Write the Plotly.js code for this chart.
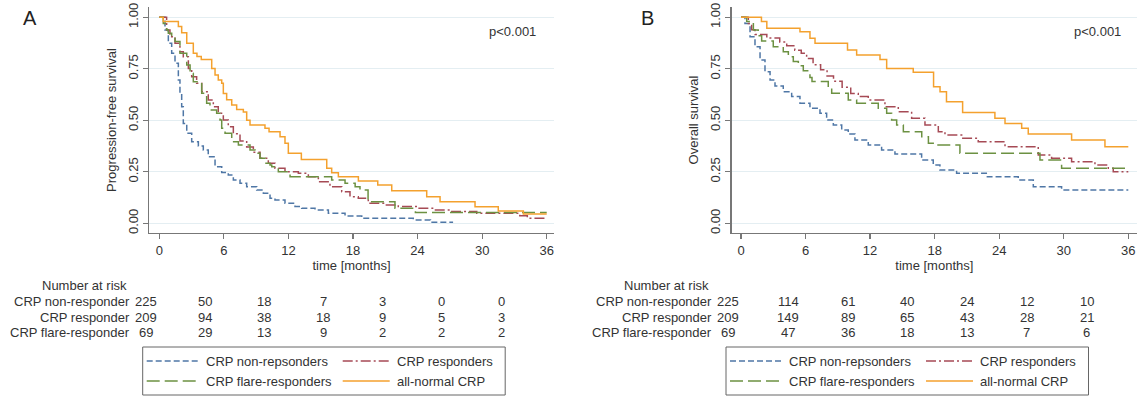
<!DOCTYPE html>
<html><head><meta charset="utf-8">
<script src="https://cdn.plot.ly/plotly-3.0.1.min.js"></script>
<style>html,body{margin:0;padding:0;background:#fff}#chart{width:1145px;height:396px}</style>
</head><body><div id="chart"></div>
<script>
// ---------- Panel A: progression-free survival (time in months, survival) ----------
const tA_non   = [0,0.53,0.84,1.15,1.46,1.77,1.92,2.08,2.23,2.55,3.01,3.63,4.09,4.55,5.18,5.8,6.41,6.88,7.5,8.12,9.05,9.67,10.29,10.75,11.68,12.61,13.23,14.47,15.71,17.26,18.81,23.6,25.2,27.3];
const sA_non   = [1,0.938,0.874,0.825,0.777,0.696,0.631,0.566,0.485,0.437,0.396,0.375,0.356,0.323,0.275,0.246,0.234,0.21,0.194,0.178,0.162,0.146,0.121,0.113,0.097,0.081,0.073,0.065,0.049,0.035,0.024,0.016,0.005,0.005];
const tA_resp  = [0,0.68,0.99,1.46,1.92,2.23,2.7,3.01,3.47,3.94,4.55,5.02,5.48,5.95,6.41,6.88,7.5,8.12,8.74,9.36,10.13,10.75,11.68,12.92,13.85,14.78,15.86,16.95,17.72,18.49,19.42,20.98,22.21,24,25.5,27,29.5,33.5,34.2,36];
const sA_resp  = [1,0.938,0.906,0.874,0.833,0.809,0.752,0.712,0.68,0.639,0.599,0.566,0.534,0.501,0.469,0.435,0.4,0.37,0.345,0.316,0.291,0.267,0.25,0.243,0.226,0.202,0.178,0.153,0.129,0.121,0.097,0.089,0.081,0.073,0.065,0.057,0.049,0.037,0.025,0.025];
const tA_flare = [0,0.37,0.68,0.84,1.15,1.46,1.92,2.55,2.86,3.16,3.94,4.4,4.71,5.33,5.64,5.8,6.11,6.73,7.35,8.43,8.9,9.36,9.82,10.29,10.45,11.06,12.15,16.02,17.26,18.2,18.65,19.4,21.9,23.8,36];
const sA_flare = [1,0.97,0.94,0.922,0.906,0.882,0.825,0.768,0.728,0.687,0.631,0.583,0.55,0.534,0.502,0.461,0.437,0.396,0.38,0.356,0.34,0.316,0.291,0.283,0.275,0.25,0.226,0.21,0.194,0.178,0.162,0.105,0.073,0.052,0.052];
const tA_all   = [0,0.37,1.77,2.08,2.55,3.16,3.5,3.9,4.87,5.18,5.48,5.8,5.95,6.26,6.73,7.19,7.81,8.12,8.43,9.82,10.2,11.22,11.68,11.99,13.2,15.56,16.02,16.64,18.5,20.3,21.6,24.85,26.09,29.34,31.5,33.83,36];
const sA_all   = [1,0.98,0.955,0.925,0.874,0.825,0.81,0.795,0.752,0.72,0.696,0.68,0.63,0.6,0.574,0.553,0.54,0.5,0.477,0.461,0.445,0.42,0.388,0.34,0.31,0.267,0.245,0.226,0.205,0.186,0.158,0.129,0.105,0.08,0.06,0.045,0.045];

// ---------- Panel B: overall survival ----------
const tB_non   = [0,0.37,0.84,1.3,1.77,2.23,2.7,3.16,3.93,4.71,5.48,6.41,7.34,7.96,8.58,9.36,9.97,10.59,11.83,13.07,14.31,16.79,17.87,18.49,20.04,22.9,25.77,27.17,29.8,36];
const sB_non   = [1,0.97,0.906,0.857,0.793,0.736,0.696,0.667,0.639,0.615,0.583,0.558,0.534,0.501,0.477,0.453,0.433,0.404,0.38,0.356,0.336,0.307,0.283,0.259,0.243,0.226,0.21,0.178,0.162,0.162];
const tB_resp  = [0,0.68,0.99,1.3,2.4,3.6,4.25,5.0,5.6,6.1,6.7,7.4,8.0,8.6,9.4,10.2,10.9,11.83,13.38,14.62,15.86,17.1,18.34,18.96,20.51,22.05,24.54,27.63,28.87,30.73,32.9,34.14,34.6,36];
const sB_resp  = [1,0.97,0.94,0.917,0.9,0.88,0.862,0.84,0.825,0.8,0.77,0.745,0.715,0.69,0.66,0.63,0.615,0.599,0.566,0.542,0.51,0.477,0.445,0.429,0.413,0.396,0.372,0.332,0.316,0.299,0.283,0.267,0.25,0.25];
const tB_flare = [0,0.53,1.15,1.6,1.92,3.0,3.93,4.4,4.86,5.33,5.79,6.41,6.6,8.11,8.43,9.97,10.75,12.76,13.54,14.0,14.47,15.09,16.8,17.42,18.03,20.35,27.79,29.8,36];
const sB_flare = [1,0.98,0.938,0.91,0.885,0.857,0.833,0.809,0.785,0.765,0.74,0.708,0.688,0.66,0.631,0.599,0.583,0.558,0.534,0.502,0.477,0.445,0.42,0.388,0.38,0.34,0.307,0.267,0.267];
const tB_all   = [0,1.9,2.4,5.48,6.41,6.88,9.9,10.75,12.92,13.54,16.01,17.9,18.5,19.1,20.6,23.6,24.54,26.09,26.7,30.73,33.83,36];
const sB_all   = [1,0.98,0.947,0.93,0.898,0.874,0.841,0.817,0.795,0.752,0.733,0.663,0.639,0.59,0.538,0.51,0.485,0.461,0.433,0.404,0.372,0.372];

// ---------- Number at risk ----------
const riskTimes   = [0,6,12,18,24,30,36];
const riskRows    = ["CRP non-responder","CRP responder","CRP flare-responder"];
const riskA_non   = [225,50,18,7,3,0,0];
const riskA_resp  = [209,94,38,18,9,5,3];
const riskA_flare = [69,29,13,9,2,2,2];
const riskB_non   = [225,114,61,40,24,12,10];
const riskB_resp  = [209,149,89,65,43,28,21];
const riskB_flare = [69,47,36,18,13,7,6];

// ---------- Legend / text ----------
const seriesNames = ["CRP non-repsonders","CRP responders","CRP flare-responders","all-normal CRP"];
const xTicks = [0,6,12,18,24,30,36];
const yTicks = [0,0.25,0.5,0.75,1];

// ---------- styling ----------
const W = 1145, H = 396;
const FONT = "Liberation Sans, Arial, Helvetica, sans-serif";
const TXT = "#333333";
const styles = [
  {color:"#4f77a6", dash:"6px,3px"},
  {color:"#a64a55", dash:"10px,3px,2px,3px"},
  {color:"#6c9142", dash:"13px,5px"},
  {color:"#f4a12e", dash:"solid"}
];
const px = v => v / W;
const py = v => 1 - v / H;

function trace(t, s, k, xa, ya) {
  return {x:t, y:s, type:"scatter", mode:"lines", xaxis:xa, yaxis:ya,
    line:{shape:"hv", color:styles[k].color, dash:styles[k].dash, width:1.5},
    hoverinfo:"skip", showlegend:false};
}
const data = [
  trace(tA_non, sA_non, 0, "x", "y"),
  trace(tA_resp, sA_resp, 1, "x", "y"),
  trace(tA_flare, sA_flare, 2, "x", "y"),
  trace(tA_all, sA_all, 3, "x", "y"),
  trace(tB_non, sB_non, 0, "x2", "y2"),
  trace(tB_resp, sB_resp, 1, "x2", "y2"),
  trace(tB_flare, sB_flare, 2, "x2", "y2"),
  trace(tB_all, sB_all, 3, "x2", "y2")
];

const yTop = 7, yBot = 233;
function xAxis(l, r, x0px, x36px, anchor) {
  const u = (x36px - x0px) / 36;
  return {domain:[px(l), px(r)], range:[(l - x0px)/u, (r - x0px)/u], anchor:anchor,
    tickvals:xTicks, ticks:"outside", ticklen:5, tickcolor:"#777", tickwidth:1.2,
    showline:true, linecolor:"#777", linewidth:1.3, showgrid:false, zeroline:false,
    tickfont:{family:FONT, size:13, color:TXT},
    title:{text:"time [months]", font:{family:FONT, size:13, color:TXT}, standoff:2},
    automargin:false};
}
function yAxis(title, anchor) {
  const u = 206, y0 = 223.3;
  return {domain:[py(yBot), py(yTop)], range:[(y0 - yBot)/u, (y0 - yTop)/u], anchor:anchor,
    tickvals:yTicks, tickformat:".2f", tickangle:-90, ticks:"outside", ticklen:5,
    tickcolor:"#777", tickwidth:1.2, showline:true, linecolor:"#777", linewidth:1.3,
    showgrid:true, gridcolor:"#e4eef2", gridwidth:1, zeroline:false,
    tickfont:{family:FONT, size:13, color:TXT},
    title:{text:title, font:{family:FONT, size:13, color:TXT}, standoff:6},
    automargin:false};
}

const annotations = [];
const shapes = [];
function txt(x, y, text, opts) {
  annotations.push(Object.assign({xref:"paper", yref:"paper", x:px(x), y:py(y), text:text,
    showarrow:false, xanchor:"center", yanchor:"middle",
    font:{family:FONT, size:13, color:TXT}}, opts || {}));
}
// Panel letters and p values
txt(30, 17.5, "A", {font:{family:FONT, size:20, color:"#222"}});
txt(647, 17.5, "B", {font:{family:FONT, size:20, color:"#222"}});
txt(512, 31, "p<0.001");
txt(1097, 31, "p<0.001");

// Number at risk tables
function riskTable(labelRight, x0, step, rows) {
  txt(labelRight - 3, 285, "Number at risk", {xanchor:"right"});
  const rowY = [301, 317, 332];
  rows.forEach((vals, r) => {
    txt(labelRight, rowY[r], riskRows[r], {xanchor:"right"});
    vals.forEach((v, k) => txt(x0 + step * riskTimes[k] / 6, rowY[r], String(v)));
  });
}
riskTable(132, 145.8, 59.2, [riskA_non, riskA_resp, riskA_flare]);
riskTable(713.5, 728.3, 59.7, [riskB_non, riskB_resp, riskB_flare]);

// Legends (boxed, 2 x 2)
function legendBox(x0) {
  shapes.push({type:"rect", xref:"paper", yref:"paper", x0:px(x0), x1:px(x0 + 362.5),
    y0:py(395), y1:py(347), line:{color:"#666", width:1}, fillcolor:"rgba(0,0,0,0)"});
  const cells = [[0, 0], [1, 0], [0, 1], [1, 1]];
  const order = [0, 1, 2, 3];
  order.forEach((k, i) => {
    const c = cells[i][0], r = cells[i][1];
    const yy = r === 0 ? 361 : 381;
    const lx0 = c === 0 ? x0 + 4 : x0 + 200;
    const lx1 = c === 0 ? x0 + 56 : x0 + 247;
    shapes.push({type:"line", xref:"paper", yref:"paper", x0:px(lx0), x1:px(lx1), y0:py(yy), y1:py(yy),
      line:{color:styles[k].color, dash:styles[k].dash, width:1.5}});
    txt(lx1 + 5, yy, seriesNames[k], {xanchor:"left"});
  });
}
legendBox(142.7);
legendBox(726);

const layout = {
  width:W, height:H, margin:{l:0, r:0, t:0, b:0},
  paper_bgcolor:"#fff", plot_bgcolor:"#fff", showlegend:false,
  font:{family:FONT, size:13, color:TXT},
  xaxis: xAxis(149, 554, 159.3, 546.7, "y"),
  yaxis: yAxis("Progression-free survival", "x"),
  xaxis2: xAxis(731.7, 1137, 741, 1128.3, "y2"),
  yaxis2: yAxis("Overall survival", "x2"),
  annotations: annotations,
  shapes: shapes
};
Plotly.newPlot("chart", data, layout, {displayModeBar:false, staticPlot:true});
</script></body></html>
